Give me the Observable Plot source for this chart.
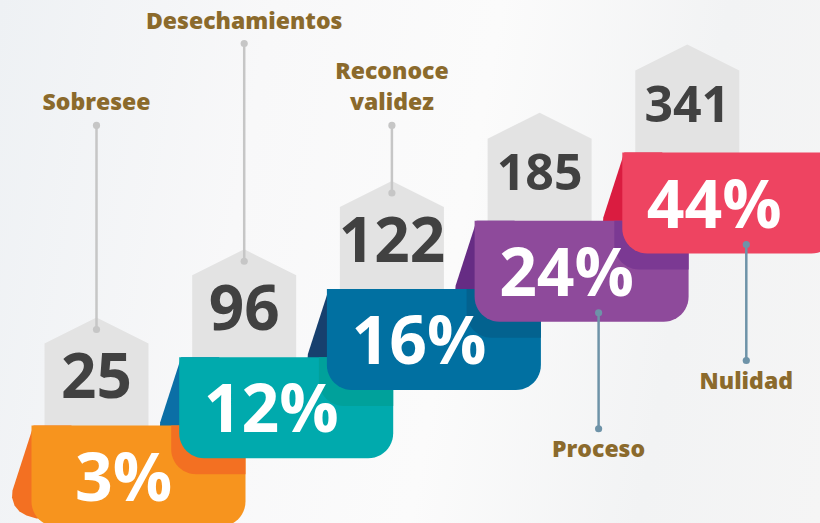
<!DOCTYPE html>
<html><head><meta charset="utf-8">
<script src="https://cdn.jsdelivr.net/npm/d3@7"></script>
<script src="https://cdn.jsdelivr.net/npm/@observablehq/plot@0.6"></script>
<style>
html,body{margin:0;padding:0;}
body{width:820px;height:523px;overflow:hidden;background:linear-gradient(100deg,#eef1f4 0%,#f8f8f9 30%,#fbfbfb 55%,#f2f3f4 80%,#f5f5f5 100%);}
#chart svg{display:block;}
</style></head><body><div id="chart"></div>
<script>
// ---- data ----
const categories = ["Sobresee", "Desechamientos", "Reconoce validez", "Proceso", "Nulidad"];
const counts = [25, 96, 122, 185, 341];
const percents = [3, 12, 16, 24, 44];
const bodyColors = ["#F7941E", "#00AAAD", "#0170A1", "#8E4A9B", "#EE4461"];
const flapColors = ["#F37022", "#0B6FA6", "#17406E", "#662C84", "#DA1C40"];
const shadeColors = ["#F37022", "#00A19B", "#03628F", "#7B3993", null];

// ---- layout ----
const W = 820, H = 523;
const SX = 147.7, SY = 68.25;   // pixels per step
const X0 = 96, Y0 = 425;        // first step anchor
const FONT = "'Open Sans', 'DejaVu Sans', sans-serif";
const topLabelCount = 3;
const topRows = [4.396, 5.597];

const items = categories.map((c, i) => ({i, cat: c, count: counts[i], pct: percents[i]}));

const toData = (i, pts) => pts.map(([dx, dy]) => [i + dx / SX, i - dy / SY]);
function rrect(x1, y1, x2, y2, rbl, rbr) {
  const pts = [[x1, y1], [x2, y1]];
  if (rbr > 0) { for (let k = 0; k <= 12; k++) { const a = k / 12 * Math.PI / 2; pts.push([x2 - rbr + rbr * Math.cos(a), y2 - rbr + rbr * Math.sin(a)]); } }
  else pts.push([x2, y2]);
  if (rbl > 0) { for (let k = 0; k <= 12; k++) { const a = Math.PI / 2 + k / 12 * Math.PI / 2; pts.push([x1 + rbl + rbl * Math.cos(a), y2 - rbl + rbl * Math.sin(a)]); } }
  else pts.push([x1, y2]);
  return pts;
}
const poly = (pts, fill) => Plot.line(pts, {x: d => d[0], y: d => d[1], fill, stroke: "none", curve: "linear-closed"});

const BL = -65, BR = 149, BH = 101, RAD = 25;
const marks = [];
// tags
items.forEach(d => marks.push(poly(toData(d.i, [[-52, 12], [-52, -82], [0, -108], [52, -82], [52, 12]]), "#E3E3E3")));
// numbers
marks.push(Plot.text(items, {x: "i", y: "i", dy: -47, text: d => String(d.count), fontSize: d => d.i < topLabelCount ? 62 : 50,
  fill: "#414141", fontWeight: 700, fontFamily: FONT}));
// top connectors
const topItems = items.filter(d => d.i < topLabelCount);
marks.push(Plot.link(topItems, {x1: "i", x2: "i", y1: d => topRows[d.i % 2], y2: d => d.i + 96 / SY, stroke: "#C6C6C6", strokeWidth: 2.5}));
marks.push(Plot.dot(topItems, {x: "i", y: d => topRows[d.i % 2], r: 3.6, fill: "#C6C6C6"}));
marks.push(Plot.dot(topItems, {x: "i", y: d => d.i + 96 / SY, r: 3.6, fill: "#C6C6C6"}));
// flaps
items.forEach(d => marks.push(poly(toData(d.i, [[BL + 2, 0], [BL - 19, 65], [BL - 19.5, 72], [BL - 17, 80], [BL - 12, 86], [BL - 5, 90], [BL + 5, 93], [BL + 40, 93], [BL + 40, 0]]), flapColors[d.i])));
// bodies + shades
items.forEach(d => {
  marks.push(poly(toData(d.i, rrect(BL, 0, BR, BH, RAD, RAD)), bodyColors[d.i]));
  if (d.i < items.length - 1) marks.push(poly(toData(d.i, rrect(BL + SX - 8, 0, BR, BH - SY + 16, RAD, 0)), shadeColors[d.i]));
});
// percents
marks.push(Plot.text(items, {x: "i", y: "i", dx: 27, dy: 54, text: d => d.pct + "%", fontSize: 66, fill: "white", fontWeight: 700, fontFamily: FONT}));
// bottom connectors
const botItems = items.filter(d => d.i >= topLabelCount);
const botTop = d => d.i - (BH - 9) / SY, botEnd = d => d.i - 208 / SY;
marks.push(Plot.link(botItems, {x1: d => d.i + 59 / SX, x2: d => d.i + 59 / SX, y1: botTop, y2: botEnd, stroke: "#6E93A8", strokeWidth: 2.5}));
marks.push(Plot.dot(botItems, {x: d => d.i + 59 / SX, y: botTop, r: 3.6, fill: "#6E93A8"}));
marks.push(Plot.dot(botItems, {x: d => d.i + 59 / SX, y: botEnd, r: 3.6, fill: "#6E93A8"}));
// labels
marks.push(Plot.text(topItems, {x: "i", y: d => topRows[d.i % 2], dy: -15, lineAnchor: "bottom", lineHeight: 1.35,
  text: d => d.cat.replace(" ", "\n"), fontSize: 23, fill: "#8B6A2C", fontWeight: 800, fontFamily: FONT}));
marks.push(Plot.text(botItems, {x: d => d.i + 59 / SX, y: botEnd, dy: 12, lineAnchor: "top",
  text: "cat", fontSize: 23, fill: "#8B6A2C", fontWeight: 800, fontFamily: FONT}));

const chart = Plot.plot({
  width: W, height: H, margin: 0,
  style: {background: "transparent", overflow: "visible"},
  x: {domain: [-X0 / SX, (W - X0) / SX], axis: null},
  y: {domain: [(Y0 - H) / SY, Y0 / SY], axis: null},
  marks
});
document.getElementById("chart").appendChild(chart);
</script></body></html>
